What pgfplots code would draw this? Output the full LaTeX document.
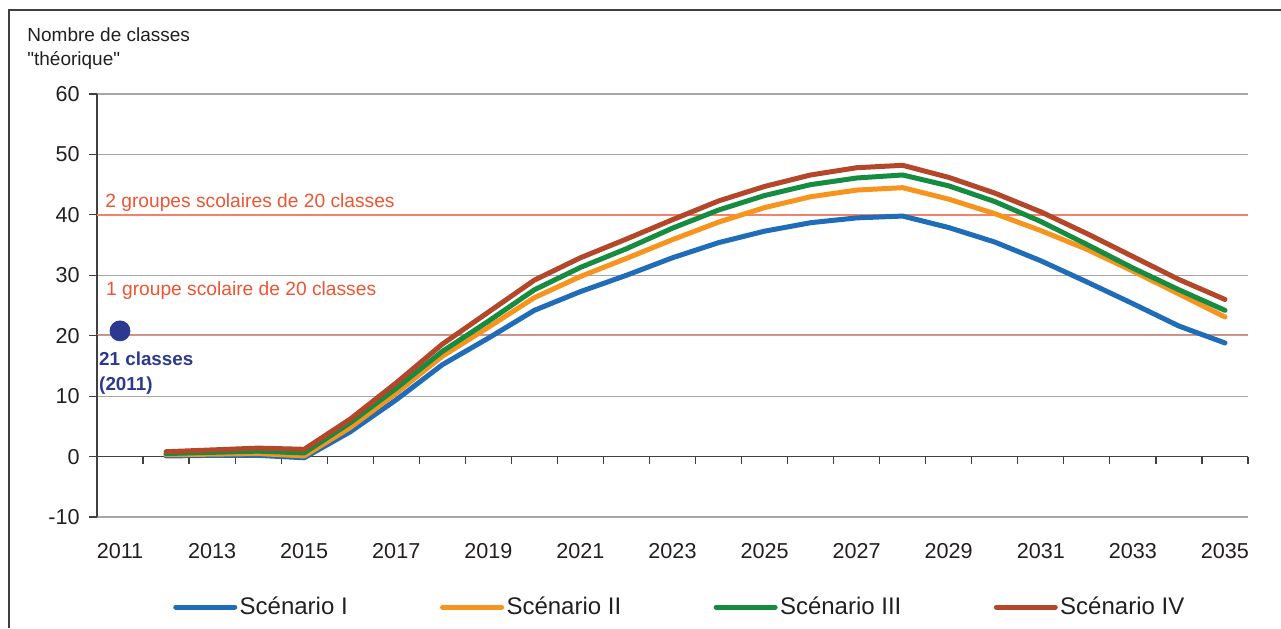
\documentclass[border=0pt]{standalone}
\usepackage{pgfplots}
\pgfplotsset{compat=1.18}
\usepackage{fontspec}
\setmainfont{Liberation Sans}[Ligatures=TeXOff]
\definecolor{sI}{HTML}{1F6CB8}
\definecolor{sII}{HTML}{F7941E}
\definecolor{sIII}{HTML}{168C40}
\definecolor{sIV}{HTML}{B4462A}
\definecolor{refl}{HTML}{F2836E}
\definecolor{annot}{HTML}{EC5532}
\definecolor{navy}{HTML}{2B3990}
\definecolor{gridc}{HTML}{A6A6A6}
\definecolor{axc}{HTML}{404040}
\definecolor{txt}{HTML}{231F20}
\begin{document}
\begin{tikzpicture}
\path[use as bounding box] (0pt,0pt) rectangle (640.5pt,314pt);
\draw[axc, line width=0.8pt] (4.5pt,0pt) -- (4.5pt,309pt) -- (640.5pt,309pt);
\node[anchor=base west, font=\fontsize{9.5}{11}\selectfont, text=txt, inner sep=0] at (13.5pt,293pt) {Nombre de classes};
\node[anchor=base west, font=\fontsize{9.5}{11}\selectfont, text=txt, inner sep=0] at (13.5pt,281pt) {"théorique"};
\begin{axis}[
  at={(48.5pt,55.5pt)}, anchor=south west, scale only axis,
  width=575.5pt, height=211.5pt,
  xmin=2010.5, xmax=2035.5, ymin=-10, ymax=60,
  axis x line*=bottom, axis y line*=left,
  axis line style={-},
  x axis line style={draw=none},
  y axis line style={axc, line width=0.6pt},
  ytick={-10,0,10,20,30,40,50,60},
  yticklabels={-10,0,10,20,30,40,50,60},
  ymajorgrids, grid style={gridc, line width=0.6pt},
  ytick style={axc, line width=0.6pt},
  tick align=outside, major tick length=4pt,
  xtick={2011,2013,2015,2017,2019,2021,2023,2025,2027,2029,2031,2033,2035},
  xticklabels={2011,2013,2015,2017,2019,2021,2023,2025,2027,2029,2031,2033,2035},
  xtick style={draw=none},
  tick label style={font=\fontsize{10.8}{12}\selectfont, text=txt},
  xticklabel style={anchor=base, yshift=-16.8pt, inner sep=0pt},
  yticklabel style={anchor=east, inner sep=0pt, xshift=-4.5pt},
  legend columns=4,
  legend style={at={(0.5065,-0.213)}, anchor=center, draw=none, fill=none,
    font=\fontsize{12}{14}\selectfont, text=txt,
    /tikz/every even column/.append style={column sep=45pt},
    nodes={inner xsep=1.2pt}},
  legend image code/.code={\draw[#1] (0pt,0pt) -- (29.5pt,0pt);},
  clip=false,
]
\draw[refl, line width=0.8pt] (axis cs:2010.5,40) -- (axis cs:2035.5,40);
\draw[refl, line width=0.8pt] (axis cs:2010.5,20.2) -- (axis cs:2035.5,20.2);
\draw[axc, line width=0.7pt] (axis cs:2010.5,0) -- (axis cs:2035.5,0);
\pgfplotsinvokeforeach{2010.5,2011.5,...,2035.5}{\draw[axc, line width=0.6pt] (axis cs:#1,0) -- ++(0pt,-3.5pt);}

\addplot[sI, line width=2.5pt, line cap=round, line join=round] coordinates {
(2012,0.1) (2013,0.2) (2014,0.2) (2015,-0.2) (2016,4.1) (2017,9.4) (2018,15.2) (2019,19.6)
(2020,24.2) (2021,27.3) (2022,30.0) (2023,32.9) (2024,35.4) (2025,37.3) (2026,38.7) (2027,39.5)
(2028,39.8) (2029,37.9) (2030,35.5) (2031,32.4) (2032,28.9) (2033,25.3) (2034,21.6) (2035,18.8)};
\addlegendentry{Scénario I}
\addplot[sII, line width=2.5pt, line cap=round, line join=round] coordinates {
(2012,0.3) (2013,0.4) (2014,0.5) (2015,0.1) (2016,4.8) (2017,10.5) (2018,16.6) (2019,21.4)
(2020,26.3) (2021,29.8) (2022,32.8) (2023,35.9) (2024,38.8) (2025,41.2) (2026,43.0) (2027,44.1)
(2028,44.5) (2029,42.6) (2030,40.2) (2031,37.4) (2032,34.3) (2033,30.7) (2034,26.9) (2035,23.1)};
\addlegendentry{Scénario II}
\addplot[sIII, line width=2.5pt, line cap=round, line join=round] coordinates {
(2012,0.5) (2013,0.7) (2014,0.9) (2015,0.6) (2016,5.6) (2017,11.3) (2018,17.4) (2019,22.4)
(2020,27.6) (2021,31.3) (2022,34.4) (2023,37.8) (2024,40.8) (2025,43.2) (2026,45.0) (2027,46.1)
(2028,46.6) (2029,44.8) (2030,42.2) (2031,38.9) (2032,35.1) (2033,31.2) (2034,27.6) (2035,24.2)};
\addlegendentry{Scénario III}
\addplot[sIV, line width=2.5pt, line cap=round, line join=round] coordinates {
(2012,0.8) (2013,1.1) (2014,1.4) (2015,1.2) (2016,6.2) (2017,12.2) (2018,18.6) (2019,23.9)
(2020,29.2) (2021,32.9) (2022,36.0) (2023,39.2) (2024,42.3) (2025,44.7) (2026,46.6) (2027,47.8)
(2028,48.2) (2029,46.2) (2030,43.6) (2031,40.5) (2032,36.9) (2033,33.1) (2034,29.3) (2035,26.0)};
\addlegendentry{Scénario IV}
\addplot[only marks, mark=*, mark size=5pt, navy, forget plot] coordinates {(2011,20.8)};

\node[anchor=base west, inner sep=0, text=annot, font=\fontsize{9.6}{11}\selectfont] at (axis cs:2010.674,41.3) {2 groupes scolaires de 20 classes};
\node[anchor=base west, inner sep=0, text=annot, font=\fontsize{9.6}{11}\selectfont] at (axis cs:2010.69,26.6) {1 groupe scolaire de 20 classes};
\node[anchor=base west, inner sep=0, text=navy, font=\fontsize{9.4}{11}\selectfont\bfseries] at (axis cs:2010.54,15.07) {21 classes};
\node[anchor=base west, inner sep=0, text=navy, font=\fontsize{9.4}{11}\selectfont\bfseries] at (axis cs:2010.54,10.93) {(2011)};
\end{axis}
\end{tikzpicture}
\end{document}
